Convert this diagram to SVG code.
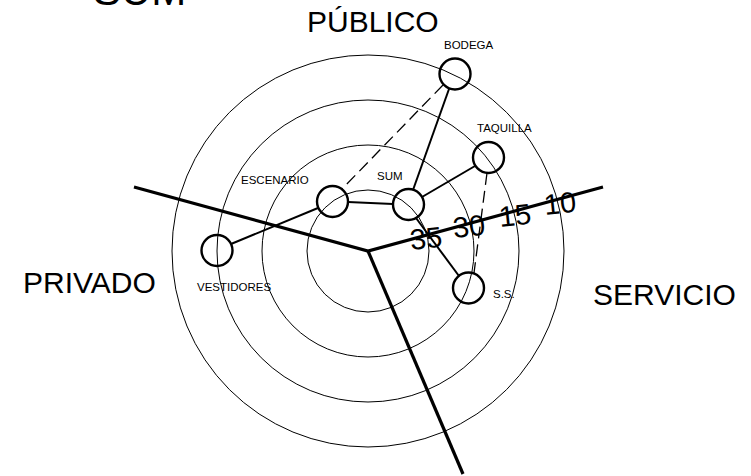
<svg xmlns="http://www.w3.org/2000/svg" width="751" height="476" viewBox="0 0 751 476">
<style>
.ring{fill:none;stroke:#000;stroke-width:1}
.axis{stroke:#000;stroke-width:3.2;fill:none;stroke-linecap:butt}
.node{fill:none;stroke:#000;stroke-width:2.4}
.link{stroke:#000;stroke-width:2;fill:none}
.dash{stroke:#000;stroke-width:1.3;fill:none;stroke-dasharray:12 6}
.big{font-family:"Liberation Sans",Arial,sans-serif;font-size:30px;fill:#000}
.small{font-family:"Liberation Sans",Arial,sans-serif;font-size:11.5px;fill:#000}
.num{font-family:"Liberation Sans",Arial,sans-serif;font-size:29px;fill:#000}
</style>
<rect width="751" height="476" fill="#fff"/>
<g id="rings">
<circle class="ring" cx="368" cy="251" r="61"/>
<circle class="ring" cx="368" cy="251" r="106"/>
<circle class="ring" cx="368" cy="251" r="151"/>
<circle class="ring" cx="368" cy="251" r="196"/>
</g>
<g id="axes">
<polyline class="axis" points="134,187 368,251 603,187"/>
<line class="axis" x1="368" y1="251" x2="463" y2="474"/>
</g>
<g id="connectors">
<line class="link" x1="449" y1="89" x2="413" y2="190"/>
<line class="dash" x1="443" y1="85" x2="342" y2="189"/>
<line class="link" x1="475" y1="166" x2="422" y2="197"/>
<line class="dash" x1="487" y1="173" x2="474" y2="273"/>
<line class="link" x1="348" y1="202" x2="393" y2="204"/>
<line class="link" x1="231" y1="244" x2="318" y2="208"/>
<line class="link" x1="416" y1="218" x2="459" y2="276"/>
</g>
<g id="node-bodega"><circle class="node" cx="455" cy="74" r="15.5"/><text class="small" x="444" y="49">BODEGA</text></g>
<g id="node-taquilla"><circle class="node" cx="488.5" cy="157.5" r="15.5"/><text class="small" x="477" y="132">TAQUILLA</text></g>
<g id="node-escenario"><circle class="node" cx="332.5" cy="201.5" r="15.5"/><text class="small" x="241" y="184">ESCENARIO</text></g>
<g id="node-sum"><circle class="node" cx="408.5" cy="204.5" r="15.5"/><text class="small" x="377" y="180">SUM</text></g>
<g id="node-vestidores"><circle class="node" cx="217" cy="250.5" r="15.5"/><text class="small" x="197" y="291">VESTIDORES</text></g>
<g id="node-ss"><circle class="node" cx="468.5" cy="288" r="15.5"/><text class="small" x="493" y="298">S.S.</text></g>
<g id="labels">
<text class="big" style="font-size:42px" x="93" y="5">SUM</text>
<text class="big" x="307" y="32">PÚBLICO</text>
<text class="big" x="23" y="293">PRIVADO</text>
<text class="big" x="593" y="305">SERVICIO</text>
<text class="num" x="411" y="250" transform="rotate(-6 411 250)">35</text>
<text class="num" x="454" y="238" transform="rotate(-6 454 238)">30</text>
<text class="num" x="500" y="227" transform="rotate(-6 500 227)">15</text>
<text class="num" x="545" y="215" transform="rotate(-6 545 215)">10</text>
</g>
</svg>
